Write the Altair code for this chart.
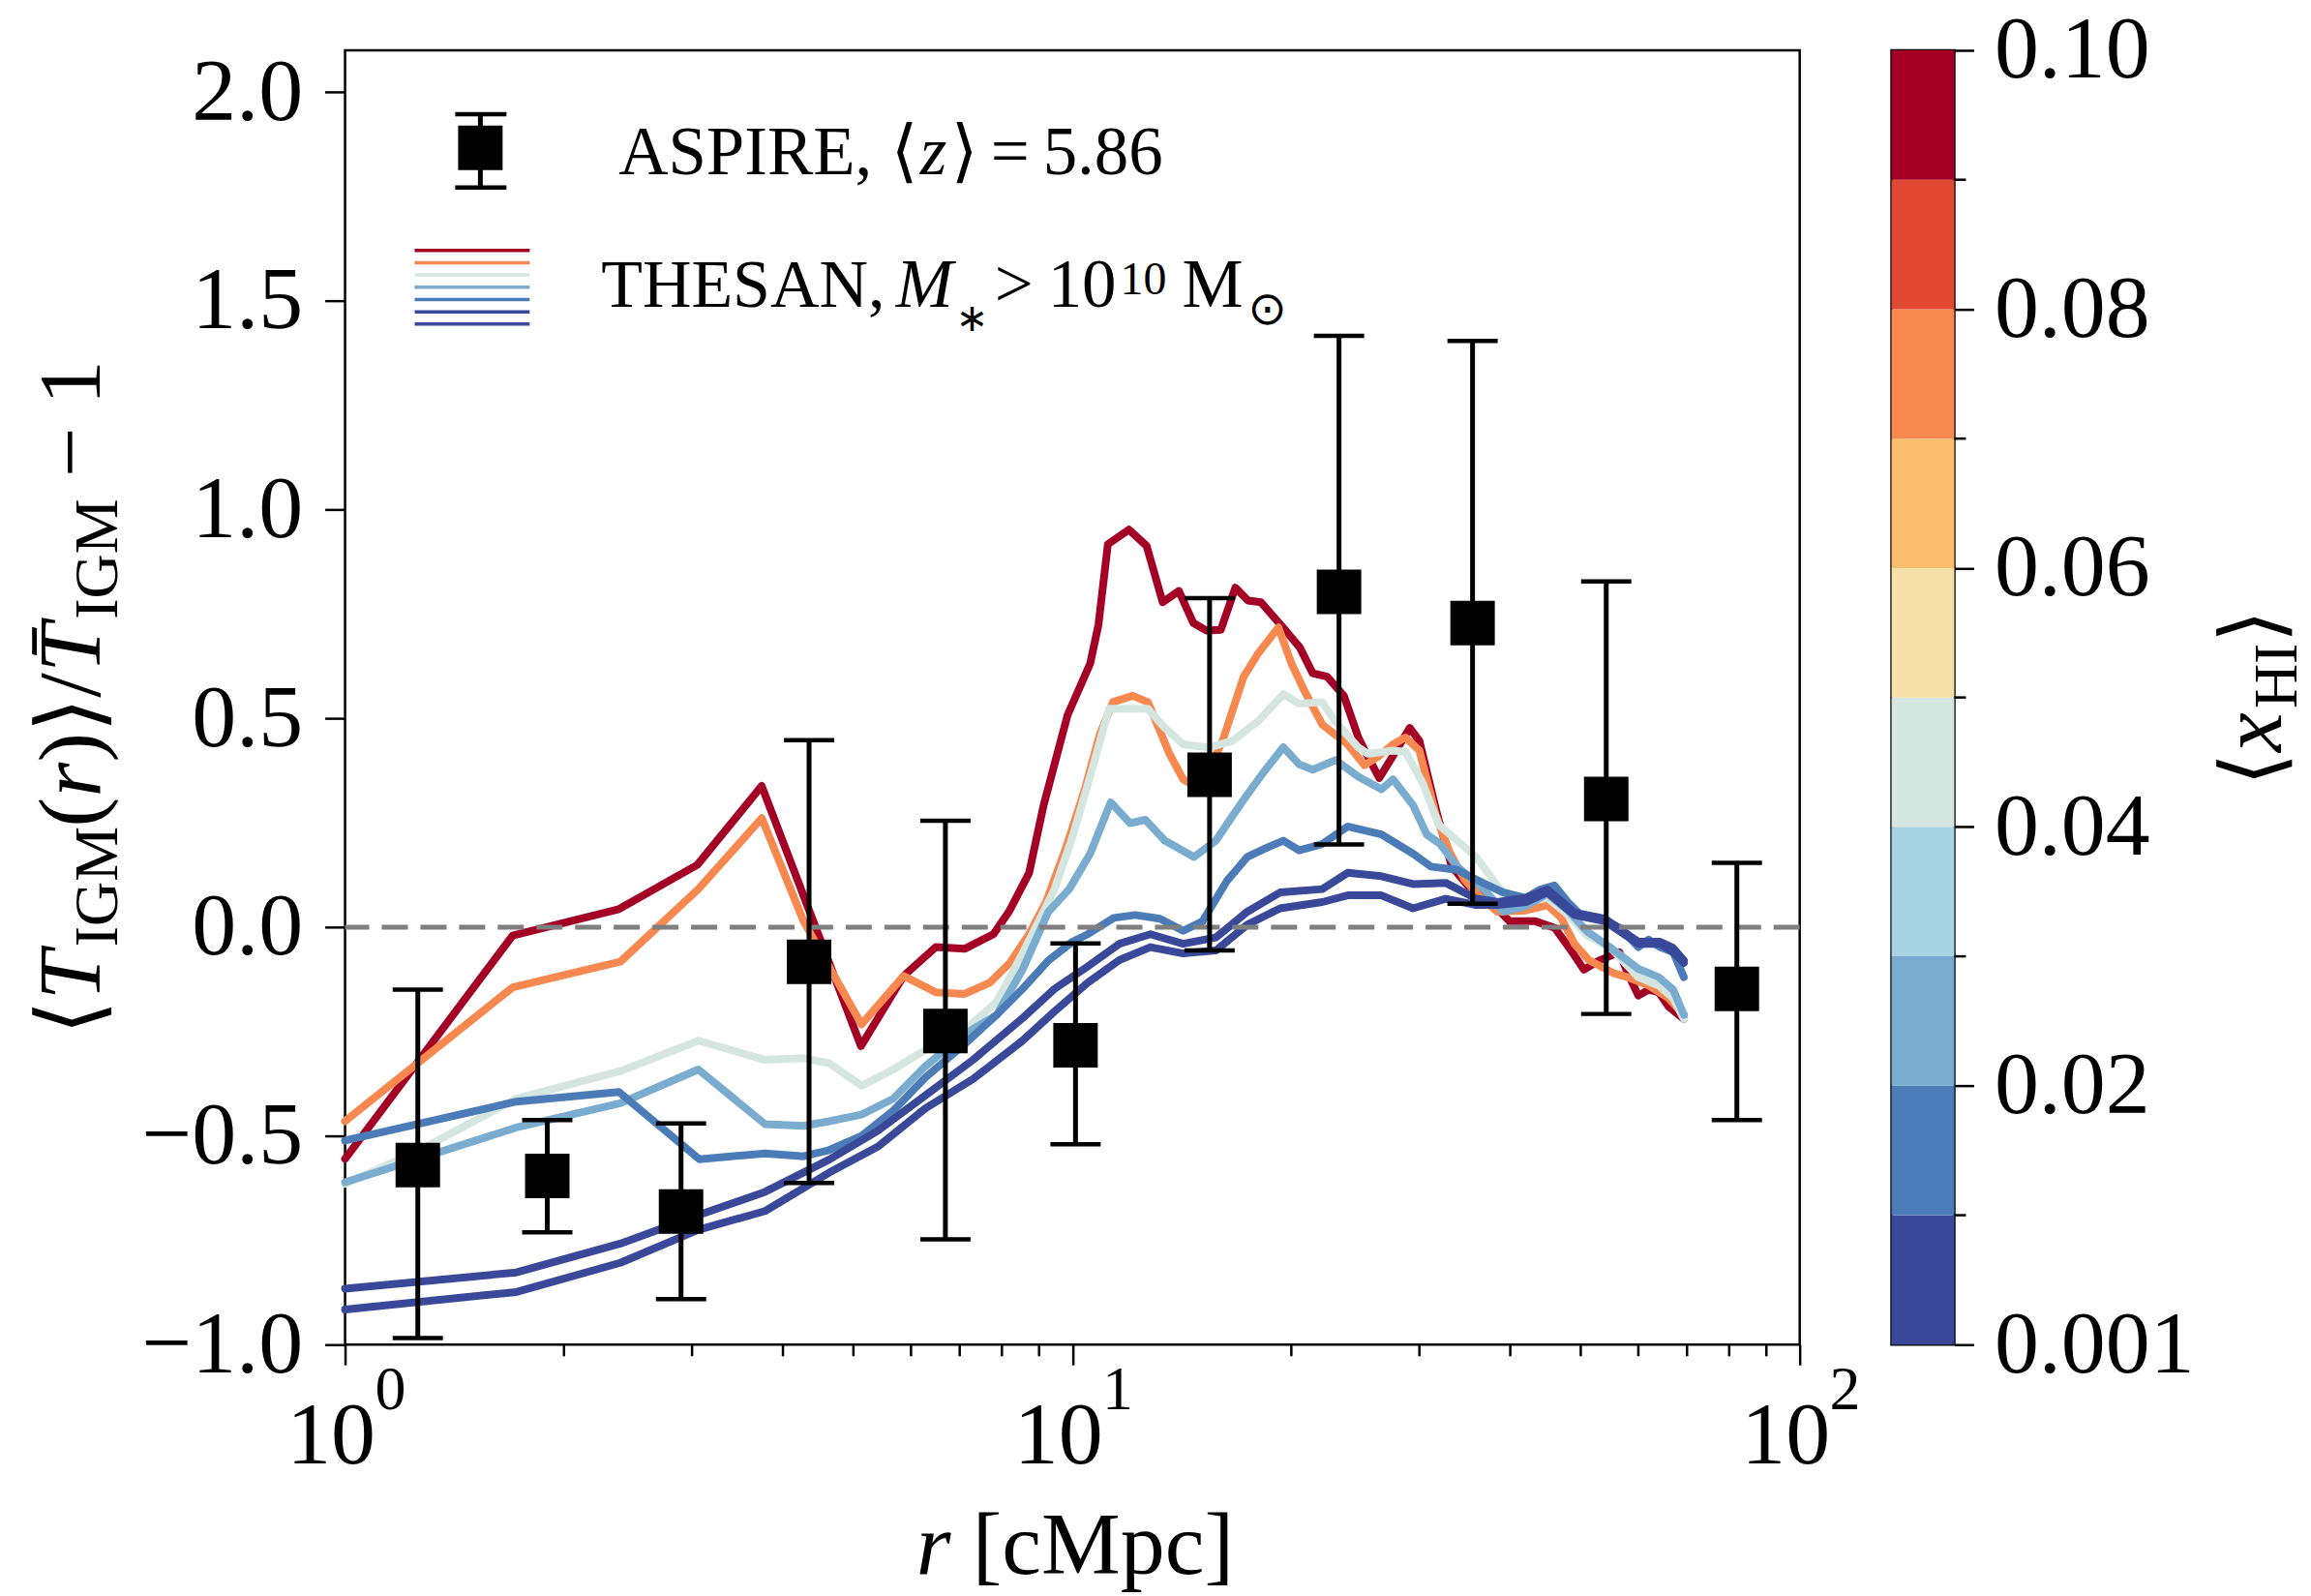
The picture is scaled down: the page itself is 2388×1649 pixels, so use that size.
import altair as alt
import pandas as pd

SERIF = "Liberation Serif, DejaVu Serif"
MATH = "DejaVu Sans"

# ---------------- data ----------------
series_names = ["s_red", "s_orange", "s_pale", "s_lightblue", "s_blue", "s_dark1", "s_dark2"]
series_xhi = [0.095, 0.075, 0.045, 0.025, 0.015, 0.005, 0.002]

red_r = [1.0, 1.70, 2.38, 3.05, 3.74, 5.12, 5.86, 6.49, 7.11, 7.79, 8.2, 8.72, 9.13, 9.85, 10.58, 10.86,
         11.19, 11.96, 12.65, 13.31, 14.01, 14.67, 15.3, 16.0, 16.75, 17.44, 18.17, 19.52, 20.54, 21.4,
         22.4, 23.62, 24.73, 25.37, 26.42, 27.52, 29.1, 30.0, 31.75, 33.24, 34.98, 36.8, 38.35, 39.9,
         43.3, 46.06, 48.5, 50.5, 53.0, 56.5, 58.0, 60.0, 62.0, 64.0, 66.0, 69.3]
red_v = [-0.555, -0.02, 0.043, 0.149, 0.338, -0.285, -0.117, -0.048, -0.052, -0.017, 0.04, 0.13, 0.292,
         0.508, 0.631, 0.724, 0.917, 0.952, 0.913, 0.778, 0.805, 0.728, 0.71, 0.712, 0.813, 0.782, 0.778,
         0.716, 0.670, 0.608, 0.600, 0.554, 0.454, 0.415, 0.357, 0.407, 0.477, 0.446, 0.269, 0.145, 0.099,
         0.083, 0.045, 0.014, 0.014, -0.002, -0.056, -0.102, -0.08, -0.06, -0.11, -0.164, -0.15, -0.156,
         -0.19, -0.22]

orange_r = [1.0, 1.70, 2.39, 3.06, 3.74, 4.27, 5.13, 5.86, 6.49, 7.11, 7.7, 8.2, 8.72, 9.2, 9.8, 10.4,
            10.9, 11.37, 12.1, 12.7, 13.6, 14.2, 15.0, 16.1, 17.2, 18.0, 19.2, 20.0, 20.9, 22.06, 23.9,
            25.2, 26.4, 27.6, 28.7, 30.0, 31.6, 33.0, 34.6, 36.5, 38.4, 42.0, 45.0, 47.0, 49.0, 51.3, 55.4,
            58.0, 62.0, 66.0, 69.3]
orange_v = [-0.465, -0.144, -0.083, 0.091, 0.261, 0.014, -0.233, -0.117, -0.156, -0.160, -0.133, -0.086,
            -0.017, 0.06, 0.19, 0.33, 0.46, 0.539, 0.554, 0.539, 0.415, 0.354, 0.33, 0.448, 0.60, 0.655,
            0.718, 0.632, 0.562, 0.485, 0.438, 0.388, 0.41, 0.438, 0.454, 0.423, 0.269, 0.18, 0.114, 0.07,
            0.037, 0.04, 0.053, 0.022, -0.04, -0.079, -0.11, -0.12, -0.14, -0.17, -0.21]

pale_r = [1.0, 1.24, 1.72, 2.39, 3.06, 3.78, 4.27, 4.63, 5.13, 5.67, 6.16, 7.17, 7.87, 8.54, 8.99, 9.45,
          10.0, 10.67, 11.23, 12.0, 12.7, 13.4, 14.2, 15.4, 16.6, 17.97, 19.5, 20.5, 22.06, 23.0, 24.7,
          25.5, 27.6, 28.7, 30.3, 31.9, 33.8, 35.9, 38.7, 42.0, 45.0, 48.0, 51.0, 55.0, 60.0, 64.0, 67.0,
          69.3]
pale_v = [-0.615, -0.542, -0.411, -0.345, -0.272, -0.318, -0.314, -0.326, -0.380, -0.341, -0.303, -0.241,
          -0.179, -0.063, 0.014, 0.091, 0.215, 0.384, 0.523, 0.523, 0.523, 0.477, 0.438, 0.43, 0.446,
          0.492, 0.558, 0.535, 0.539, 0.492, 0.431, 0.415, 0.423, 0.42, 0.346, 0.245, 0.207, 0.168, 0.091,
          0.06, 0.07, 0.03, -0.02, -0.05, -0.12, -0.14, -0.17, -0.22]

lightblue_r = [1.0, 1.72, 2.39, 3.06, 3.78, 4.27, 4.63, 5.13, 5.67, 6.28, 7.11, 7.87, 8.54, 9.27, 9.9,
               10.58, 11.29, 12.0, 12.6, 13.4, 14.7, 15.75, 17.1, 18.3, 19.5, 20.5, 21.4, 23.0, 24.7, 26.6,
               27.6, 29.4, 30.7, 32.0, 33.8, 36.8, 39.1, 42.0, 45.0, 48.0, 51.0, 55.0, 60.0, 64.0, 67.0,
               69.3]
lightblue_v = [-0.611, -0.480, -0.422, -0.341, -0.472, -0.476, -0.465, -0.449, -0.411, -0.333, -0.256,
               -0.210, -0.102, 0.037, 0.091, 0.176, 0.299, 0.249, 0.257, 0.207, 0.168, 0.207, 0.299, 0.37,
               0.431, 0.39, 0.377, 0.400, 0.361, 0.330, 0.354, 0.292, 0.222, 0.2, 0.145, 0.091, 0.037,
               0.05, 0.08, 0.04, -0.01, -0.05, -0.1, -0.12, -0.15, -0.21]

blue_r = [1.0, 1.72, 2.38, 3.07, 3.78, 4.27, 4.63, 5.13, 5.67, 6.28, 7.11, 7.87, 8.54, 9.27, 10.0, 10.5,
          11.4, 12.2, 13.2, 14.2, 15.1, 16.3, 17.4, 18.5, 19.5, 20.5, 22.06, 23.9, 26.6, 29.4, 31.1, 33.8,
          35.9, 39.1, 42.0, 44.0, 46.0, 48.0, 50.0, 53.0, 56.6, 60.0, 62.0, 64.3, 67.0, 69.3]
blue_v = [-0.511, -0.418, -0.395, -0.556, -0.542, -0.549, -0.534, -0.50, -0.44, -0.36, -0.28, -0.21,
          -0.148, -0.08, -0.035, -0.017, 0.022, 0.029, 0.02, -0.009, 0.014, 0.11, 0.168, 0.19, 0.207,
          0.184, 0.199, 0.241, 0.222, 0.176, 0.145, 0.137, 0.114, 0.083, 0.07, 0.09, 0.10, 0.06, 0.029,
          0.02, -0.002, -0.048, -0.03, -0.048, -0.06, -0.12]

dark_r = [1.0, 1.72, 2.39, 3.06, 3.78, 4.63, 5.4, 6.28, 7.3, 8.54, 9.45, 10.5, 11.6, 12.8, 14.2, 15.75,
          17.4, 19.3, 22.06, 23.9, 26.6, 29.4, 32.6, 35.9, 38.4, 42.0, 45.0, 49.0, 54.0, 60.0, 64.3, 67.0,
          69.3]
dark1_v = [-0.866, -0.827, -0.758, -0.690, -0.634, -0.557, -0.488, -0.403, -0.318, -0.218, -0.148, -0.094,
           -0.040, -0.017, -0.040, -0.025, 0.037, 0.083, 0.091, 0.130, 0.122, 0.103, 0.106, 0.068, 0.06,
           0.07, 0.09, 0.035, 0.02, -0.035, -0.035, -0.05, -0.08]
dark2_v = [-0.916, -0.874, -0.804, -0.725, -0.680, -0.588, -0.526, -0.434, -0.364, -0.272, -0.202, -0.133,
           -0.079, -0.048, -0.063, -0.056, 0.006, 0.045, 0.060, 0.076, 0.076, 0.045, 0.068, 0.053, 0.053,
           0.06, 0.083, 0.029, 0.014, -0.040, -0.040, -0.06, -0.086]

aspire_r = [1.259, 1.897, 2.897, 4.345, 6.69, 10.1, 15.44, 23.26, 35.5, 54.2, 81.96]
aspire_v = [-0.570, -0.596, -0.681, -0.083, -0.249, -0.283, 0.365, 0.803, 0.728, 0.307, -0.148]
aspire_lo = [-0.984, -0.731, -0.891, -0.613, -0.748, -0.520, -0.056, 0.198, 0.056, -0.208, -0.462]
aspire_hi = [-0.150, -0.462, -0.470, 0.448, 0.255, -0.039, 0.788, 1.416, 1.404, 0.828, 0.154]

# colorbar: 10 discrete bins, bottom -> top
cbar_colors = ["#394899", "#4c7cb8", "#7aacd0", "#a8d3e4", "#d5e6e0",
               "#f4e0a8", "#fbbd6f", "#f68850", "#e04831", "#a40026"]
cbar_edges = [0.01, 0.02, 0.03, 0.04, 0.05, 0.06, 0.07, 0.08, 0.09]
cbar_major = [0, 2, 4, 6, 8, 10]
cbar_minor = [1, 3, 5, 7, 9]

x_major = [1, 10, 100]
x_exponents = ["0", "1", "2"]
x_minor = [2, 3, 4, 5, 6, 7, 8, 9, 20, 30, 40, 50, 60, 70, 80, 90]
y_ticks = [-1.0, -0.5, 0.0, 0.5, 1.0, 1.5, 2.0]

# ---------------- tables ----------------
series_r = [red_r, orange_r, pale_r, lightblue_r, blue_r, dark_r, dark_r]
series_v = [red_v, orange_v, pale_v, lightblue_v, blue_v, dark1_v, dark2_v]
rows = []
for name, xhi, rr, vv in zip(series_names, series_xhi, series_r, series_v):
    assert len(rr) == len(vv), name
    for a, b in zip(rr, vv):
        rows.append({"series": name, "xhi": xhi, "r": a, "v": b})
lines_df = pd.DataFrame(rows)
aspire_df = pd.DataFrame({"r": aspire_r, "v": aspire_v, "lo": aspire_lo, "hi": aspire_hi})
dummy = pd.DataFrame({"k": [0]})

# ---------------- layout ----------------
W, H = 1505, 1339
x_scale = alt.Scale(type="log", domain=[1, 100], nice=False)
y_scale = alt.Scale(domain=[-1.0, 2.1], nice=False, zero=False)
color_scale = alt.Scale(type="threshold", domain=cbar_edges, range=cbar_colors)

x_axis = alt.Axis(values=x_major, labelExpr="'10'", labelFont=SERIF, labelFontSize=92, labelColor="black",
                  labelBaseline="alphabetic", labelPadding=101, labelOffset=-15, tickSize=21, tickWidth=2.5,
                  tickColor="black", domain=False, grid=False, title=None, labelFlush=False,
                  labelOverlap=False, labelBound=False, labelLimit=600)
y_axis = alt.Axis(values=y_ticks, format=".1f", labelFont=SERIF, labelFontSize=92, labelColor="black",
                  labelPadding=23, tickSize=21, tickWidth=2.5, tickColor="black", domain=False, grid=False,
                  title=None, labelFlush=False, labelOverlap=False, labelBound=False, labelLimit=600)


def X(field="r"):
    return alt.X(f"{field}:Q", scale=x_scale, axis=x_axis)


def Y(field="v"):
    return alt.Y(f"{field}:Q", scale=y_scale, axis=y_axis)


def txt(text, x, y, size, style="normal", font=SERIF, angle=0, align="left", baseline="alphabetic"):
    kw = dict(text=text, font=font, fontSize=size, fontStyle=style, align=align, baseline=baseline,
              color="black")
    if angle:
        kw["angle"] = angle
    return alt.Chart(dummy).mark_text(**kw).encode(x=alt.value(x), y=alt.value(y))


layers = []
for name in series_names:
    layers.append(
        alt.Chart(lines_df).transform_filter(alt.datum.series == name)
        .mark_line(strokeWidth=8, strokeJoin="round", strokeCap="round")
        .encode(x=X(), y=Y(), color=alt.Color("xhi:Q", scale=color_scale, legend=None))
    )

layers.append(alt.Chart(pd.DataFrame({"v": [0.0]})).mark_rule(
    color="#7f7f7f", strokeWidth=5, strokeDash=[27, 13]).encode(y=Y()))

layers.append(alt.Chart(aspire_df).mark_rule(color="black", strokeWidth=5).encode(
    x=X(), y=Y("lo"), y2="hi:Q"))
for f in ["lo", "hi"]:
    layers.append(alt.Chart(aspire_df).mark_tick(
        orient="horizontal", size=52, thickness=4.5, color="black", opacity=1).encode(x=X(), y=Y(f)))
layers.append(alt.Chart(aspire_df).mark_square(size=2116, color="black", opacity=1, filled=True).encode(
    x=X(), y=Y()))

# minor x ticks and exponent part of the tick labels
layers.append(alt.Chart(pd.DataFrame({"r": x_minor})).mark_rule(color="black", strokeWidth=2.5).encode(
    x=X(), y=alt.value(H), y2=alt.value(H + 12)))
layers.append(alt.Chart(pd.DataFrame({"r": x_major, "e": x_exponents})).mark_text(
    font=SERIF, fontSize=64, align="left", baseline="alphabetic", dx=31, color="black").encode(
    x=X(), y=alt.value(H + 67), text="e:N"))

# legend: ASPIRE
layers.append(alt.Chart(dummy).mark_rule(color="black", strokeWidth=5).encode(
    x=alt.value(140), y=alt.value(66), y2=alt.value(142)))
for yy in [66, 142]:
    layers.append(alt.Chart(dummy).mark_rule(color="black", strokeWidth=4.5).encode(
        x=alt.value(114), x2=alt.value(167), y=alt.value(yy)))
layers.append(alt.Chart(dummy).mark_square(size=2116, color="black", opacity=1, filled=True).encode(
    x=alt.value(140), y=alt.value(101)))
LF = 71
layers += [
    txt("ASPIRE,", 283, 128, LF),
    txt("\u27e8", 565, 128, LF, font=MATH),
    txt("z", 595, 128, LF, style="italic"),
    txt("\u27e9", 627, 128, LF, font=MATH),
    txt("=", 668, 128, LF),
    txt("5.86", 722, 128, LF),
]
# legend: THESAN
legend_colors = ["#a40026", "#f68850", "#d5e6e0", "#7aacd0", "#4c7cb8", "#394899", "#394899"]
for i, c in enumerate(legend_colors):
    layers.append(alt.Chart(dummy).mark_rule(color=c, strokeWidth=3.5).encode(
        x=alt.value(72), x2=alt.value(191), y=alt.value(207 + 12.7 * i)))
layers += [
    txt("THESAN,", 265, 265, 70),
    txt("M", 570, 265, LF, style="italic"),
    txt("\u2217", 632, 290, 40, font=MATH),
    txt(">", 672, 265, LF),
    txt("10", 727, 265, LF),
    txt("10", 802, 252, 48),
    txt("M", 866, 265, LF),
    txt("\u2299", 934, 283, 48, font=MATH),
]

# x title
layers += [txt("r", 591, 1576, 92, style="italic"), txt("[cMpc]", 649, 1576, 92)]

# y title (rotated, built from pieces)
ypieces = [
    ("\u27e8", 92, "normal", MATH, 0, 36),
    ("T", 92, "italic", SERIF, 0, 55),
    ("IGM", 64, "normal", SERIF, 18, 124),
    ("(", 92, "normal", SERIF, 0, 31),
    ("r", 92, "italic", SERIF, 0, 36),
    (")", 92, "normal", SERIF, 0, 31),
    ("\u27e9", 92, "normal", MATH, 0, 36),
    ("/", 92, "normal", SERIF, 0, 26),
    ("T\u0304", 92, "italic", SERIF, 0, 55),
    ("IGM", 64, "normal", SERIF, 18, 147),
    ("\u2212 1", 92, "normal", SERIF, 0, 121),
]
total = sum(p[5] for p in ypieces)
ypos = H / 2 + total / 2
for t, s, st, fnt, sh, adv in ypieces:
    layers.append(txt(t, -254 + sh, ypos, s, style=st, font=fnt, angle=270))
    ypos -= adv

main = alt.layer(*layers).properties(width=W, height=H)

# ---------------- colorbar ----------------
CBW = 65
cb_df = pd.DataFrame({"lo": list(range(10)), "hi": list(range(1, 11)), "col": cbar_colors})
cb_scale = alt.Scale(domain=[0, 10], nice=False, zero=False)
cb_axis = alt.Axis(orient="right", values=cbar_major,
                   labelExpr="datum.value == 0 ? '0.001' : format(datum.value / 100, '.2f')",
                   tickSize=20, tickWidth=2.5, tickColor="black", labelPadding=21, labelFont=SERIF,
                   labelFontSize=92, labelColor="black", domain=False, grid=False, title=None,
                   labelFlush=False, labelOverlap=False, labelBound=False, labelLimit=600)
cb_layers = [
    alt.Chart(cb_df).mark_rect().encode(
        y=alt.Y("lo:Q", scale=cb_scale, axis=cb_axis), y2="hi:Q",
        x=alt.value(0), x2=alt.value(CBW), color=alt.Color("col:N", scale=None)),
    alt.Chart(pd.DataFrame({"lo": cbar_minor})).mark_rule(color="black", strokeWidth=2.5).encode(
        y=alt.Y("lo:Q", scale=cb_scale, axis=cb_axis), x=alt.value(CBW), x2=alt.value(CBW + 12)),
]
# colour-bar label, rotated like matplotlib's (reads bottom to top)
cpieces = [
    ("\u27e8", 88, "normal", MATH, 0, 35),
    ("x", 92, "italic", SERIF, 0, 45),
    ("HI", 64, "normal", SERIF, 16, 68),
    ("\u27e9", 88, "normal", MATH, 0, 35),
]
ctotal = sum(p[5] for p in cpieces)
cy = H / 2 + ctotal / 2
for t, s, st, fnt, sh, adv in cpieces:
    cb_layers.append(txt(t, 403 + sh, cy, s, style=st, font=fnt, angle=270))
    cy -= adv
cbar = alt.layer(*cb_layers).properties(width=CBW, height=H)

chart = alt.hconcat(main, cbar, spacing=95, bounds="flush").properties(
    padding={"left": 27, "top": 3, "right": 0, "bottom": 0}, background="white"
).configure_view(stroke="black", strokeWidth=2.5)

chart.save("out.html", embed_options={"renderer": "svg", "actions": False})
